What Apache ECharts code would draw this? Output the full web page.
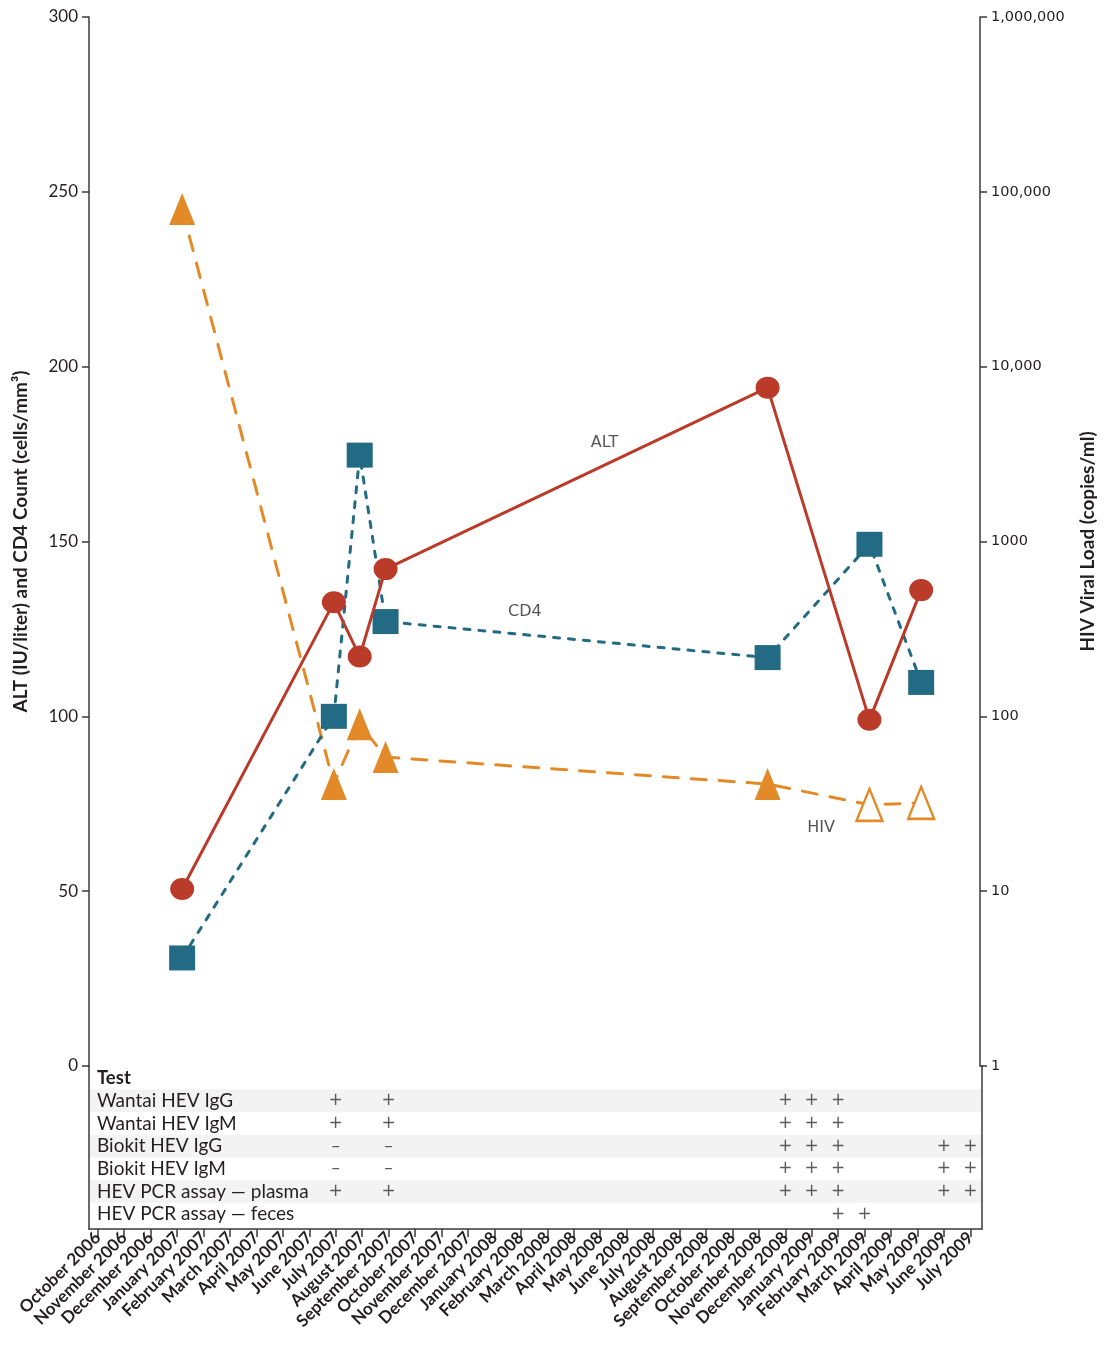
<!DOCTYPE html>
<html><head><meta charset="utf-8">
<script src="https://cdn.jsdelivr.net/npm/echarts@6/dist/echarts.min.js"></script>
<style>html,body{margin:0;padding:0;background:#fff;}#c{width:1105px;height:1345px;}</style>
</head><body><div id="c"></div>
<script>
// ---- data ----
const months = ['October 2006','November 2006','December 2006','January 2007','February 2007','March 2007','April 2007','May 2007','June 2007','July 2007','August 2007','September 2007','October 2007','November 2007','December 2007','January 2008','February 2008','March 2008','April 2008','May 2008','June 2008','July 2008','August 2008','September 2008','October 2008','November 2008','December 2008','January 2009','February 2009','March 2009','April 2009','May 2009','June 2009','July 2009'];
// sample dates in month-index units (0 = October 2006)
const sampleDates = [3.2, 8.95, 9.93, 10.91, 25.39, 29.25, 31.21];
const altValues = [50.6, 132.6, 117.1, 142.1, 194.0, 99.0, 136.1];
const cd4Values = [30.9, 100.0, 174.7, 127.1, 116.8, 149.2, 109.7];
const hivValues = [79800, 41, 90, 58.5, 41, 31.2, 32];
const hivBelowDetection = [false, false, false, false, false, true, true];
const leftTicks = [0, 50, 100, 150, 200, 250, 300];
const rightTickLabels = {1:'1', 10:'10', 100:'100', 1000:'1000', 10000:'10,000', 100000:'100,000', 1000000:'1,000,000'};
const testRows = ['Test', 'Wantai HEV IgG', 'Wantai HEV IgM', 'Biokit HEV IgG', 'Biokit HEV IgM', 'HEV PCR assay \u2014 plasma', 'HEV PCR assay \u2014 feces'];
// [month index, row index, result]
const testResults = [
  [9,1,'+'],[11,1,'+'],[26,1,'+'],[27,1,'+'],[28,1,'+'],
  [9,2,'+'],[11,2,'+'],[26,2,'+'],[27,2,'+'],[28,2,'+'],
  [9,3,'\u2013'],[11,3,'\u2013'],[26,3,'+'],[27,3,'+'],[28,3,'+'],[32,3,'+'],[33,3,'+'],
  [9,4,'\u2013'],[11,4,'\u2013'],[26,4,'+'],[27,4,'+'],[28,4,'+'],[32,4,'+'],[33,4,'+'],
  [9,5,'+'],[11,5,'+'],[26,5,'+'],[27,5,'+'],[28,5,'+'],[32,5,'+'],[33,5,'+'],
  [28,6,'+'],[29,6,'+']
];
const shadedRows = [1, 3, 5];
// series name labels [month index, left-axis value, text]
const seriesLabels = [[19.21, 178.2, 'ALT'], [16.19, 129.8, 'CD4'], [27.42, 68.1, 'HIV']];

// ---- styling ----
const RED = '#BA3B2A', TEAL = '#236A84', ORANGE = '#E38A28', INK = '#231F20', AXIS = '#3a3a3a';
const FONT = 'Lato';
const xMin = -0.33, xMax = 33.44;
const rowMin = -0.529, rowMax = 6.652;
const monthIdx = months.map((m, i) => i);

const chart = echarts.init(document.getElementById('c'), null, {renderer: 'canvas'});
const axisLineStyle = {color: AXIS, width: 1.5};

const option = {
  animation: false,
  backgroundColor: '#fff',
  textStyle: {fontFamily: FONT},
  grid: [
    {left: 89, width: 893, top: 17, height: 1049},
    {left: 89, width: 893, top: 1066, height: 163}
  ],
  xAxis: [
    {gridIndex: 0, type: 'value', min: xMin, max: xMax, axisLine: {show: false, onZero: false}, axisTick: {show: false}, axisLabel: {show: false}, splitLine: {show: false}},
    {gridIndex: 1, type: 'value', min: xMin, max: xMax, position: 'bottom', z: 10,
      axisLine: {show: true, lineStyle: axisLineStyle, onZero: false},
      axisTick: {show: true, length: 8, lineStyle: axisLineStyle, customValues: monthIdx},
      axisLabel: {show: true, customValues: monthIdx, rotate: 45, margin: 6, hideOverlap: false, fontFamily: FONT, fontWeight: 'bold', fontSize: 17, color: INK,
        formatter: v => months[Math.round(v)]},
      splitLine: {show: false}}
  ],
  yAxis: [
    {gridIndex: 0, type: 'value', min: 0, max: 300, interval: 50, position: 'left',
      name: 'ALT (IU/liter) and CD4 Count (cells/mm\u00b3)', nameLocation: 'middle', nameRotate: 90, nameGap: 59,
      nameTextStyle: {fontFamily: FONT, fontWeight: 'bold', fontSize: 19, color: INK},
      axisLine: {show: true, lineStyle: axisLineStyle, onZero: false},
      axisTick: {show: true, length: 7, lineStyle: axisLineStyle},
      axisLabel: {fontFamily: FONT, fontSize: 17, color: INK, margin: 11},
      splitLine: {show: false}},
    {gridIndex: 0, type: 'log', logBase: 10, min: 1, max: 1000000, interval: 1, position: 'right',
      name: 'HIV Viral Load (copies/ml)', nameLocation: 'middle', nameRotate: 90, nameGap: 98,
      nameTextStyle: {fontFamily: FONT, fontWeight: 'bold', fontSize: 19, color: INK},
      axisLine: {show: true, lineStyle: axisLineStyle, onZero: false},
      axisTick: {show: true, inside: false, length: 7, lineStyle: axisLineStyle},
      axisLabel: {fontFamily: 'DejaVu Sans', fontSize: 14.5, color: INK, margin: 11,
        formatter: v => rightTickLabels[Math.round(v)] !== undefined ? rightTickLabels[Math.round(v)] : ''},
      minorTick: {show: false}, splitLine: {show: false}},
    {gridIndex: 1, type: 'value', inverse: true, min: rowMin, max: rowMax, position: 'left', z: 10,
      axisLine: {show: true, lineStyle: axisLineStyle, onZero: false},
      axisTick: {show: false},
      axisLabel: {show: true, inside: true, margin: 8, hideOverlap: false, customValues: testRows.map((r, i) => i),
        formatter: v => { const i = Math.round(v); return i === 0 ? '{b|' + testRows[0] + '}' : '{n|' + testRows[i] + '}'; },
        rich: {b: {fontFamily: FONT, fontWeight: 'bold', fontSize: 18.5, lineHeight: 19, color: INK}, n: {fontFamily: FONT, fontSize: 19, lineHeight: 19, color: INK}}},
      splitLine: {show: false}},
    {gridIndex: 1, type: 'value', inverse: true, min: rowMin, max: rowMax, position: 'right', z: 10,
      axisLine: {show: true, lineStyle: axisLineStyle, onZero: false},
      axisTick: {show: false}, axisLabel: {show: false}, splitLine: {show: false}}
  ],
  series: [
    {name: 'HIV', type: 'line', xAxisIndex: 0, yAxisIndex: 1, z: 2,
      data: sampleDates.map((d, i) => ({
        value: [d, hivValues[i]],
        itemStyle: hivBelowDetection[i] ? {color: '#fff', borderColor: ORANGE, borderWidth: 2.5} : {color: ORANGE, borderWidth: 0}
      })),
      symbol: 'triangle', symbolSize: [26, 32], showAllSymbol: true,
      itemStyle: {color: ORANGE},
      lineStyle: {color: ORANGE, width: 3, type: [15, 13], cap: 'round'}},
    {name: 'CD4', type: 'line', xAxisIndex: 0, yAxisIndex: 0, z: 3,
      data: sampleDates.map((d, i) => [d, cd4Values[i]]),
      symbol: 'rect', symbolSize: [26, 25], showAllSymbol: true,
      itemStyle: {color: TEAL},
      lineStyle: {color: TEAL, width: 3, type: [6, 9], cap: 'round'}},
    {name: 'ALT', type: 'line', xAxisIndex: 0, yAxisIndex: 0, z: 4,
      data: sampleDates.map((d, i) => [d, altValues[i]]),
      symbol: 'circle', symbolSize: [24, 22], showAllSymbol: true,
      itemStyle: {color: RED},
      lineStyle: {color: RED, width: 3}},
    {name: 'labels', type: 'scatter', xAxisIndex: 0, yAxisIndex: 0, z: 5,
      data: seriesLabels, symbolSize: 1, itemStyle: {color: 'rgba(0,0,0,0)'},
      label: {show: true, position: 'inside', formatter: p => p.value[2], fontFamily: 'DejaVu Sans', fontSize: 16, color: '#2b2b2b'}},
    {name: 'tests', type: 'scatter', xAxisIndex: 1, yAxisIndex: 2, z: 1,
      data: testResults, symbolSize: 1, itemStyle: {color: 'rgba(0,0,0,0)'},
      label: {show: true, position: 'inside', formatter: p => p.value[2], fontFamily: 'DejaVu Sans', fontSize: 17, color: '#333'},
      markArea: {silent: true, z: 0, itemStyle: {color: '#F3F3F3'},
        data: shadedRows.map(r => [{xAxis: xMin, yAxis: r - 0.5}, {xAxis: xMax, yAxis: r + 0.5}])}}
  ]
};
chart.setOption(option);
</script>
</body></html>
